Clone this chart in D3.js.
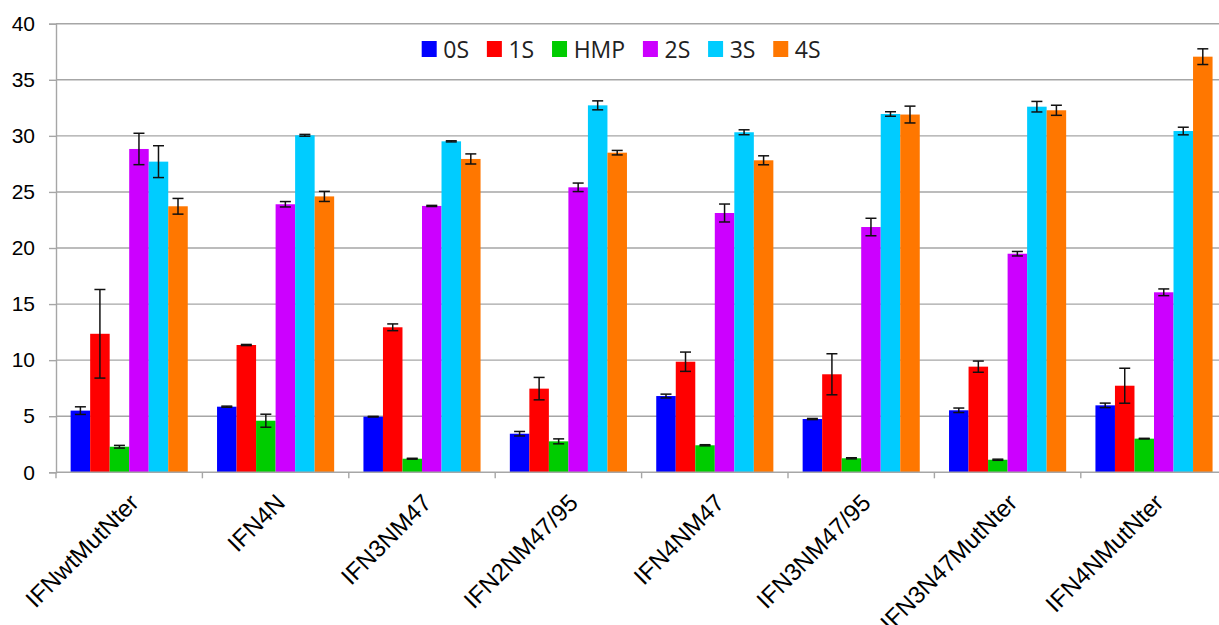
<!DOCTYPE html>
<html><head><meta charset="utf-8">
<script src="https://cdn.jsdelivr.net/npm/d3@7"></script>
<style>html,body{margin:0;padding:0;background:#fff;overflow:hidden}</style>
</head><body>
<svg id="c" width="1219" height="625"></svg>
<script>
const categories = ["IFNwtMutNter","IFN4N","IFN3NM47","IFN2NM47/95","IFN4NM47","IFN3NM47/95","IFN3N47MutNter","IFN4NMutNter"];
const seriesNames = ["0S","1S","HMP","2S","3S","4S"];
const colors = ["#0000ff","#ff0000","#00cc00","#cc00ff","#00ccff","#ff7700"];
const v0S  = [5.5, 5.85, 4.96, 3.44, 6.8, 4.75, 5.53, 5.97];
const v1S  = [12.35, 11.35, 12.93, 7.46, 9.86, 8.74, 9.42, 7.72];
const vHMP = [2.28, 4.6, 1.21, 2.76, 2.41, 1.25, 1.12, 3.0];
const v2S  = [28.83, 23.9, 23.75, 25.41, 23.12, 21.87, 19.49, 16.05];
const v3S  = [27.7, 30.05, 29.51, 32.72, 30.32, 31.95, 32.6, 30.43];
const v4S  = [23.72, 24.6, 27.94, 28.5, 27.82, 31.9, 32.28, 37.06];
const e0S  = [0.34, 0.05, 0.03, 0.2, 0.17, 0.05, 0.2, 0.2];
const e1S  = [3.95, 0.05, 0.3, 1.0, 0.86, 1.83, 0.5, 1.56];
const eHMP = [0.12, 0.58, 0.04, 0.22, 0.05, 0.05, 0.05, 0.03];
const e2S  = [1.4, 0.24, 0.05, 0.38, 0.8, 0.78, 0.2, 0.3];
const e3S  = [1.42, 0.08, 0.05, 0.4, 0.22, 0.2, 0.47, 0.34];
const e4S  = [0.7, 0.45, 0.45, 0.2, 0.4, 0.75, 0.45, 0.7];
const yTicks = [0,5,10,15,20,25,30,35,40];

const values = [v0S, v1S, vHMP, v2S, v3S, v4S];
const errors = [e0S, e1S, eHMP, e2S, e3S, e4S];

(function draw() {
const svg = d3.select("#c");
const pLeft = 56, pRight = 1227.2, pTop = 23.7, pBottom = 472.3;
const x0 = d3.scaleBand().domain(categories).range([pLeft, pRight]).paddingInner(0).paddingOuter(0);
const x1 = d3.scaleBand().domain(seriesNames).range([0, x0.bandwidth()]).paddingInner(0).paddingOuter(0.75);
const y = d3.scaleLinear().domain([0, 40]).range([pBottom, pTop]);

const grid = "#a6a6a6";
svg.append("g").selectAll("line").data(yTicks.filter(t => t > 0)).join("line")
  .attr("x1", pLeft).attr("x2", pRight).attr("y1", d => y(d)).attr("y2", d => y(d))
  .attr("stroke", grid).attr("stroke-width", 1.4);

const yAxis = svg.append("g").attr("transform", `translate(${pLeft},0)`)
  .call(d3.axisLeft(y).tickValues(yTicks).tickSize(7).tickPadding(14).tickFormat(d3.format("d")));
yAxis.select(".domain").attr("stroke", grid).attr("stroke-width", 1.4);
yAxis.selectAll(".tick line").attr("stroke", grid).attr("stroke-width", 1.4);
yAxis.selectAll(".tick text").attr("font-family", "Liberation Sans, Arial, sans-serif").attr("font-size", 21).attr("fill", "#000");

const groups = svg.append("g").selectAll("g").data(categories).join("g")
  .attr("transform", d => `translate(${x0(d)},0)`);
groups.each(function(cat, ci) {
  const g = d3.select(this);
  seriesNames.forEach((s, si) => {
    const v = values[si][ci];
    g.append("rect").attr("x", x1(s)).attr("width", x1.bandwidth())
      .attr("y", y(v)).attr("height", y(0) - y(v)).attr("fill", colors[si]);
  });
  seriesNames.forEach((s, si) => {
    const v = values[si][ci], e = errors[si][ci];
    const cx = x1(s) + x1.bandwidth() / 2;
    const eb = g.append("g").attr("stroke", "#111").attr("stroke-width", 1.5);
    eb.append("line").attr("x1", cx).attr("x2", cx).attr("y1", y(v + e)).attr("y2", y(v - e));
    eb.append("line").attr("x1", cx - 5.5).attr("x2", cx + 5.5).attr("y1", y(v + e)).attr("y2", y(v + e));
    eb.append("line").attr("x1", cx - 5.5).attr("x2", cx + 5.5).attr("y1", y(v - e)).attr("y2", y(v - e));
  });
});

const xAxis = svg.append("g").attr("transform", `translate(0,${pBottom})`);
xAxis.append("line").attr("x1", pLeft).attr("x2", pRight).attr("stroke", grid).attr("stroke-width", 1.4);
xAxis.selectAll("line.tk").data(d3.range(categories.length + 1)).join("line").attr("class", "tk")
  .attr("x1", i => pLeft + i * x0.step()).attr("x2", i => pLeft + i * x0.step())
  .attr("y1", 0).attr("y2", 6).attr("stroke", grid).attr("stroke-width", 1.4);
xAxis.selectAll("text").data(categories).join("text")
  .attr("transform", d => `translate(${x0(d) + x0.bandwidth() / 2 + 11},32) rotate(-45)`)
  .attr("text-anchor", "end")
  .attr("font-family", "Liberation Sans, Arial, sans-serif").attr("font-size", 24).attr("fill", "#000")
  .text(d => d);

const leg = svg.append("g");
let lx = 421.7;
seriesNames.forEach((s, i) => {
  leg.append("rect").attr("x", lx).attr("y", 41).attr("width", 15).attr("height", 16).attr("fill", colors[i]);
  const t = leg.append("text").attr("x", lx + 21.6).attr("y", 57.5)
    .attr("font-family", "Open Sans, sans-serif").attr("font-size", 23).attr("fill", "#222").text(s);
  lx += 21.6 + t.node().getComputedTextLength() + 17.8;
});
})();
</script>
</body></html>
